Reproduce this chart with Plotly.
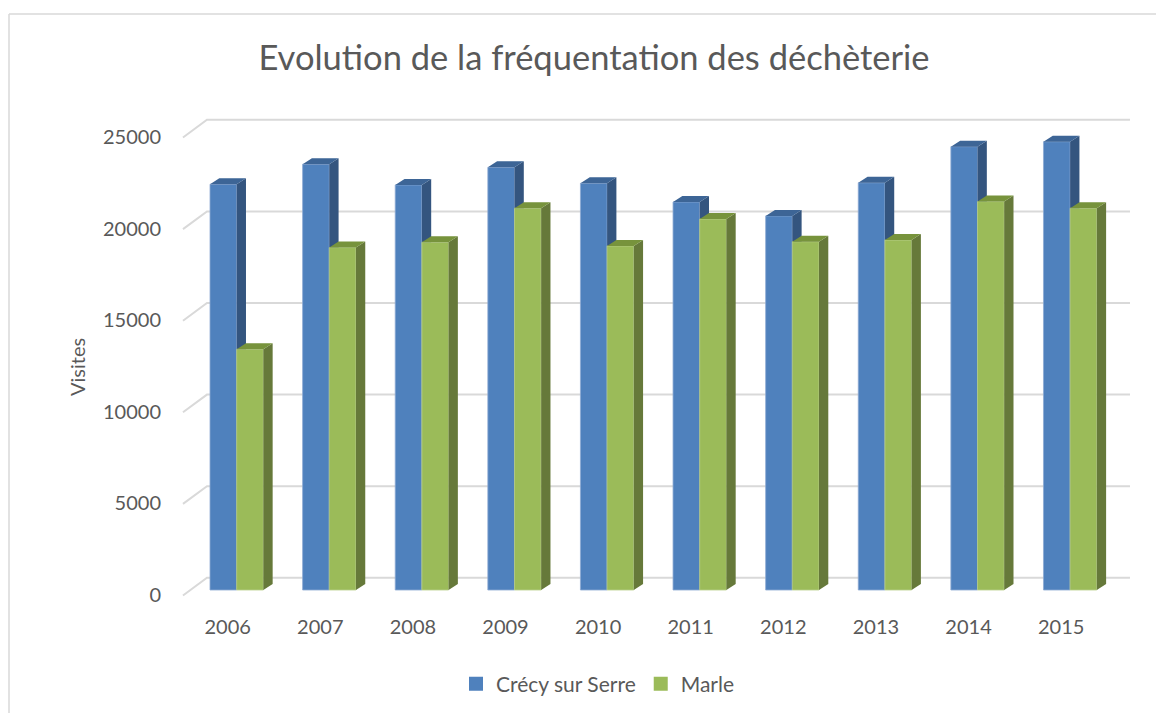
import plotly.graph_objects as go

# ---------------- data ----------------
years = ["2006", "2007", "2008", "2009", "2010", "2011", "2012", "2013", "2014", "2015"]
crecy = [22150, 23240, 22110, 23070, 22200, 21180, 20420, 22230, 24200, 24470]
marle = [13140, 18690, 18980, 20840, 18780, 20250, 19010, 19100, 21200, 20840]
series_names = ["Crécy sur Serre", "Marle"]
y_ticks = [0, 5000, 10000, 15000, 20000, 25000]

# ---------------- styling / geometry ----------------
OFF = 8                      # page body margin of the html page
W, H = 1164 - OFF, 713 - OFF
ML, MR, MT, MB = 180 - OFF, 32, 90 - OFF, 105
X_RANGE = [-0.612, 9.668]
Y_RANGE = [-982.5, 27293]
PW, PH = W - ML - MR, H - MT - MB
px_per_cat = PW / (X_RANGE[1] - X_RANGE[0])
px_per_val = PH / (Y_RANGE[1] - Y_RANGE[0])


def sx(px):  # screen x pixel -> paper fraction
    return (px - OFF - ML) / PW


def sy(py):  # screen y pixel -> paper fraction
    return (H - MB - (py - OFF)) / PH


BAR_W = 0.288               # width of one bar in category units
BAR_DX = 9.3 / px_per_cat   # depth of a bar (pixels -> data)
BAR_DY = 6.0 / px_per_val

FRONT_COLORS = ["#4F81BD", "#9BBB59"]
SIDE_COLORS = ["#34557F", "#66793A"]
TOP_COLORS = ["#3D6596", "#77933C"]
EDGE_COLORS = ["#8DAAD3", "#B9CF8C"]
TEXT = "#595959"
GRID = "#D9D9D9"
FONT = "Lato"


def poly_trace(polys, color, edge=None):
    xs, ys = [], []
    for p in polys:
        for (a, b) in p:
            xs.append(a)
            ys.append(b)
        xs.append(p[0][0])
        ys.append(p[0][1])
        xs.append(None)
        ys.append(None)
    return go.Scatter(x=xs, y=ys, mode="lines", fill="toself", fillcolor=color,
                      line=dict(color=edge or color, width=0.8 if edge else 0),
                      hoverinfo="skip", showlegend=False)


fig = go.Figure()

# legend-only traces
for name, col in zip(series_names, FRONT_COLORS):
    fig.add_trace(go.Scatter(x=[None], y=[None], name=name, mode="markers",
                             marker=dict(color=col, symbol="square", size=14),
                             showlegend=True))

for s, vals in enumerate([crecy, marle]):
    fronts, sides, tops = [], [], []
    for i, v in enumerate(vals):
        x0 = i - BAR_W + s * BAR_W
        x1 = x0 + BAR_W
        fronts.append([(x0, 0), (x1, 0), (x1, v), (x0, v)])
        sides.append([(x1, 0), (x1 + BAR_DX, BAR_DY), (x1 + BAR_DX, v + BAR_DY), (x1, v)])
        tops.append([(x0, v), (x0 + BAR_DX, v + BAR_DY), (x1 + BAR_DX, v + BAR_DY), (x1, v)])
    fig.add_trace(poly_trace(fronts, FRONT_COLORS[s], EDGE_COLORS[s]))
    fig.add_trace(poly_trace(sides, SIDE_COLORS[s]))
    fig.add_trace(poly_trace(tops, TOP_COLORS[s]))

# back-wall gridlines with slanted floor edge (pixel offsets converted to data)
FRONT_X = (183 - 236.7) / px_per_cat
BACK_X = (207 - 236.7) / px_per_cat
RIGHT_X = (1130 - 236.7) / px_per_cat
FRONT_DY = -5.5 / px_per_val
BACK_DY = 12.2 / px_per_val
shapes = []
for v in y_ticks:
    shapes.append(dict(type="path", xref="x", yref="y", layer="below",
                       path=f"M {FRONT_X},{v + FRONT_DY} L {BACK_X},{v + BACK_DY} L {RIGHT_X},{v + BACK_DY}",
                       line=dict(color=GRID, width=2)))

# chart frame (top + left edges)
shapes.append(dict(type="line", xref="paper", yref="paper",
                   x0=sx(9), x1=sx(1170), y0=sy(14), y1=sy(14),
                   line=dict(color=GRID, width=1.5)))
shapes.append(dict(type="line", xref="paper", yref="paper",
                   x0=sx(9), x1=sx(9), y0=sy(14), y1=sy(720),
                   line=dict(color=GRID, width=1.5)))

fig.update_layout(
    width=W, height=H,
    margin=dict(l=ML, r=MR, t=MT, b=MB),
    paper_bgcolor="white", plot_bgcolor="white",
    font=dict(family=FONT, color=TEXT, size=20),
    title=dict(text="Evolution de la fréquentation des déchèterie",
               font=dict(family=FONT, size=34.5, color=TEXT),
               x=(594 - OFF) / W, xref="container", xanchor="center",
               y=1 - (58 - OFF) / H, yref="container", yanchor="middle"),
    shapes=shapes,
    showlegend=True,
    legend=dict(orientation="h", x=(598 - OFF) / W, xref="container", xanchor="center",
                y=1 - (684 - OFF) / H, yref="container", yanchor="middle",
                font=dict(size=21, color=TEXT), itemsizing="trace",
                itemwidth=30, tracegroupgap=0),
    annotations=[dict(text="Visites", textangle=-90, showarrow=False,
                      xref="paper", yref="paper", x=sx(77), y=sy(367),
                      xanchor="center", yanchor="middle",
                      font=dict(size=20, color=TEXT))],
)
fig.update_xaxes(range=X_RANGE, tickvals=list(range(len(years))), ticktext=years,
                 showgrid=False, zeroline=False, showline=False, ticks="",
                 ticklabelstandoff=5, ticklabelshift=-9, fixedrange=True)
fig.update_yaxes(range=Y_RANGE, tickvals=y_ticks, ticktext=[str(t) for t in y_ticks],
                 showgrid=False, zeroline=False, showline=False, ticks="",
                 ticklabelstandoff=18, ticklabelshift=5, fixedrange=True)

fig.write_html("out.html")
